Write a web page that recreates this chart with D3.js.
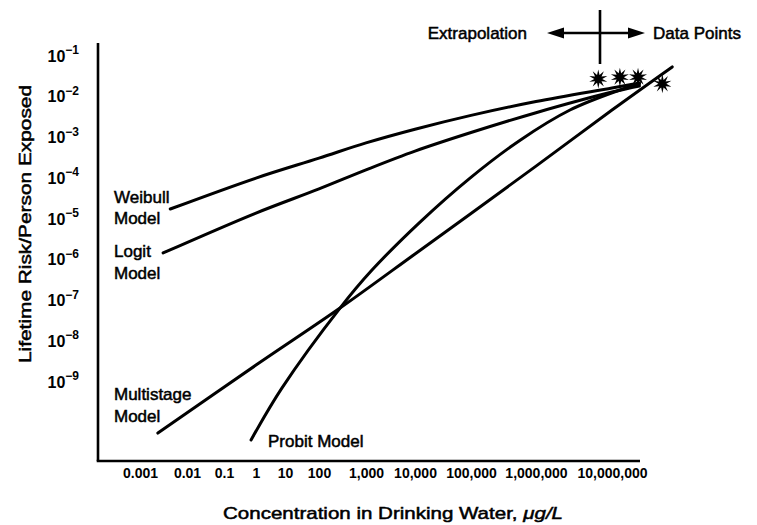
<!DOCTYPE html>
<html>
<head>
<meta charset="utf-8">
<script src="https://cdn.jsdelivr.net/npm/d3@7"></script>
<style>
  body { margin: 0; background: #fff; }
  svg { display: block; font-family: "Liberation Sans", Arial, Helvetica, sans-serif; }
  .lbl { font-size: 17px; fill: #000; stroke: #000; stroke-width: 0.5px; }
  .tick text { fill: #000; }
</style>
</head>
<body>
<svg id="chart" width="757" height="525"></svg>
<script>
// tick values + labels
const xTicks = [0.001, 0.01, 0.1, 1, 10, 100, 1000, 1e4, 1e5, 1e6, 1e7]
const xTickLabels = ["0.001", "0.01", "0.1", "1", "10", "100", "1,000", "10,000", "100,000", "1,000,000", "10,000,000"]
const yExponents = [-1, -2, -3, -4, -5, -6, -7, -8, -9]

// curves: concentration (ug/L), lifetime risk
const weibullConc = [4.4e-3, 1, 100, 1000, 1e4, 1e5, 1e6, 1e7, 2.3e7]
const weibullRisk = [1.86e-5, 1.07e-4, 3.3e-4, 7.8e-4, 1.69e-3, 3.7e-3, 8.1e-3, 1.74e-2, 2.3e-2]

const logitConc = [3.1e-3, 1, 100, 1000, 1e4, 1e5, 1e6, 1e7, 2.3e7]
const logitRisk = [1.55e-6, 1.48e-5, 5.8e-5, 1.7e-4, 4.9e-4, 1.4e-3, 4.3e-3, 1.38e-2, 1.95e-2]

const multistageConc = [2.4e-3, 1, 280, 1e4, 1e5, 1e6, 1e7, 6.2e7]
const multistageRisk = [5.9e-11, 2.75e-9, 6.9e-8, 1.47e-6, 1.45e-5, 2.1e-4, 5.0e-3, 5.7e-2]

const probitConc = [0.7, 7.9, 280, 1325, 1.23e4, 9.6e4, 5.7e5, 2.8e6, 1.27e7, 2.3e7]
const probitRisk = [4.0e-11, 7.6e-10, 6.9e-8, 5.9e-7, 8.9e-6, 1.07e-4, 9.1e-4, 5.0e-3, 1.55e-2, 2.2e-2]

// observed data points
const dataConc = [6.6e6, 1.27e7, 2.2e7, 4.6e7]
const dataRisk = [2.9e-2, 3.2e-2, 3.2e-2, 2.2e-2]

const svg = d3.select("#chart")

// the printed x ticks are not evenly spaced, so use a piecewise log scale
const xScale = d3.scaleLog()
  .domain(xTicks)
  .range([140, 187, 224, 256, 285, 319, 366, 415, 471, 536, 612])

const yScale = d3.scaleLog()
  .domain([1e-9, 1e-1])
  .range([383, 57])

const zip = (xs, ys) => xs.map((x, i) => [x, ys[i]])

const line = d3.line()
  .x(d => xScale(d[0]))
  .y(d => yScale(d[1]))
  .curve(d3.curveCatmullRom.alpha(0.5))

// axes lines
svg.append("line")
  .attr("x1", 98).attr("x2", 98)
  .attr("y1", 43).attr("y2", 461)
  .attr("stroke", "#000").attr("stroke-width", 2.6)
svg.append("line")
  .attr("x1", 96.7).attr("x2", 640)
  .attr("y1", 461).attr("y2", 461)
  .attr("stroke", "#000").attr("stroke-width", 2.6)

// x axis labels
const xAxis = d3.axisBottom(xScale)
  .tickValues(xTicks)
  .tickSize(0)
  .tickPadding(7)
  .tickFormat((d, i) => xTickLabels[i])

svg.append("g")
  .attr("transform", "translate(0,461)")
  .call(xAxis)
  .call(g => g.select(".domain").remove())
  .selectAll("text")
  .attr("font-size", 14)
  .attr("font-weight", "bold")
  .attr("font-family", "Liberation Sans, Arial, sans-serif")

// y axis labels: 10 with superscript exponent
const yAxis = d3.axisLeft(yScale)
  .tickValues(yExponents.map(e => Math.pow(10, e)))
  .tickSize(0)
  .tickPadding(19)
  .tickFormat(() => "")

const yg = svg.append("g")
  .attr("transform", "translate(98,0)")
  .call(yAxis)
  .call(g => g.select(".domain").remove())

yg.selectAll(".tick text")
  .attr("font-family", "Liberation Sans, Arial, sans-serif")
  .attr("font-weight", "bold")
  .attr("dy", "0.42em")
  .each(function(d) {
    const t = d3.select(this)
    t.append("tspan").attr("font-size", 16).text("10")
    t.append("tspan")
      .attr("font-size", 12)
      .attr("dy", -7.5)
      .text("\u2212" + Math.abs(Math.round(Math.log10(d))))
  })

// curves
const series = [
  zip(weibullConc, weibullRisk),
  zip(logitConc, logitRisk),
  zip(multistageConc, multistageRisk),
  zip(probitConc, probitRisk)
]

svg.append("g")
  .selectAll("path")
  .data(series)
  .enter()
  .append("path")
  .attr("d", line)
  .attr("fill", "none")
  .attr("stroke", "#000")
  .attr("stroke-width", 3)
  .attr("stroke-linecap", "round")

// star markers at the data points
const starPath = () => {
  const spikes = 10, rOut = 9.5, rIn = 4
  const p = d3.path()
  for (let i = 0; i < spikes * 2; i++) {
    const r = i % 2 === 0 ? rOut : rIn
    const a = Math.PI * i / spikes - Math.PI / 2
    if (i === 0) p.moveTo(r * Math.cos(a), r * Math.sin(a))
    else p.lineTo(r * Math.cos(a), r * Math.sin(a))
  }
  p.closePath()
  return p.toString()
}

svg.append("g")
  .selectAll("path")
  .data(zip(dataConc, dataRisk))
  .enter()
  .append("path")
  .attr("d", starPath())
  .attr("transform", d => `translate(${xScale(d[0])},${yScale(d[1])})`)
  .attr("fill", "#000")

// model labels
const labels = [
  { text: "Weibull", x: 114, y: 203 },
  { text: "Model", x: 114, y: 224 },
  { text: "Logit", x: 114, y: 257 },
  { text: "Model", x: 114, y: 279 },
  { text: "Multistage", x: 114, y: 400 },
  { text: "Model", x: 114, y: 422 },
  { text: "Probit Model", x: 268, y: 447 }
]

svg.append("g")
  .selectAll("text")
  .data(labels)
  .enter()
  .append("text")
  .classed("lbl", true)
  .attr("x", d => d.x)
  .attr("y", d => d.y)
  .text(d => d.text)

// extrapolation / data points annotation
svg.append("text").classed("lbl", true)
  .attr("x", 527).attr("y", 39)
  .attr("text-anchor", "end")
  .text("Extrapolation")
svg.append("text").classed("lbl", true)
  .attr("x", 653).attr("y", 39)
  .text("Data Points")

svg.append("line")
  .attr("x1", 600).attr("x2", 600)
  .attr("y1", 10).attr("y2", 64)
  .attr("stroke", "#000").attr("stroke-width", 2.6)
svg.append("line")
  .attr("x1", 556).attr("x2", 636)
  .attr("y1", 33).attr("y2", 33)
  .attr("stroke", "#000").attr("stroke-width", 2.6)
svg.append("path")
  .attr("d", "M547,33 L564,27.5 L564,38.5 Z M645,33 L628,27.5 L628,38.5 Z")
  .attr("fill", "#000")

// axis titles
svg.append("text").classed("lbl", true)
  .attr("x", 393).attr("y", 519)
  .attr("text-anchor", "middle")
  .attr("textLength", 340)
  .attr("lengthAdjust", "spacingAndGlyphs")
  .html("Concentration in Drinking Water, <tspan font-style=\"italic\">\u03bcg/L</tspan>")

svg.append("text").classed("lbl", true)
  .attr("transform", "translate(31,224) rotate(-90)")
  .attr("text-anchor", "middle")
  .attr("font-size", 18)
  .attr("textLength", 278)
  .attr("lengthAdjust", "spacingAndGlyphs")
  .text("Lifetime Risk/Person Exposed")
</script>
</body>
</html>
